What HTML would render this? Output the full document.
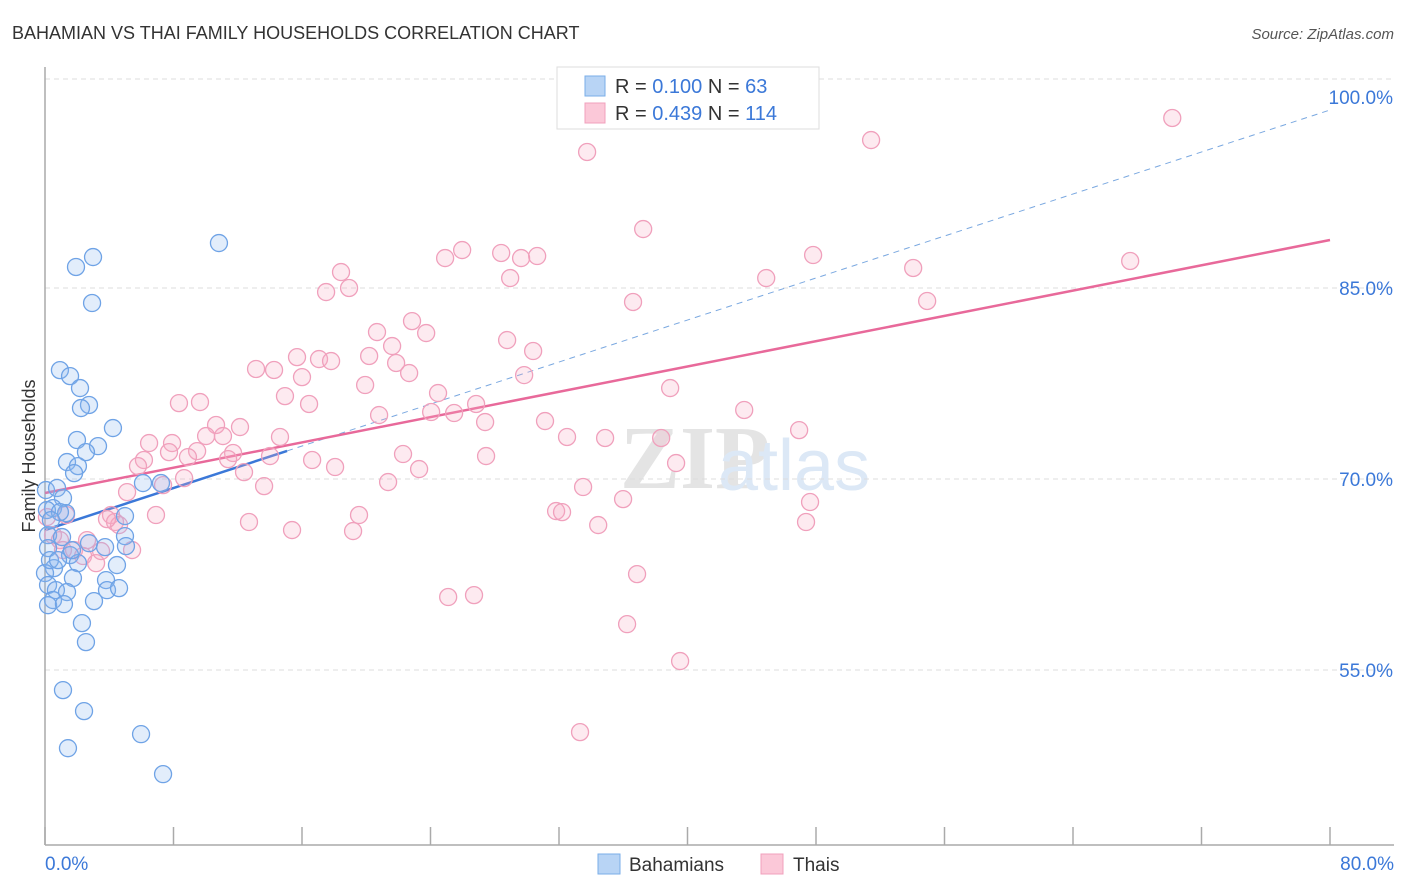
<!DOCTYPE html>
<html><head><meta charset="utf-8"><style>
body{margin:0;background:#fff;font-family:"Liberation Sans",sans-serif;}
svg{display:block}
</style></head><body>
<svg id="chart" width="1406" height="892" xmlns="http://www.w3.org/2000/svg">
<text x="12" y="39" font-size="18" fill="#333">BAHAMIAN VS THAI FAMILY HOUSEHOLDS CORRELATION CHART</text>
<text x="1394" y="39" font-size="15" fill="#555" font-style="italic" text-anchor="end">Source: ZipAtlas.com</text>
<text x="35" y="456" font-size="18" fill="#333" transform="rotate(-90 35 456)" text-anchor="middle">Family Households</text>
<text x="620" y="488" font-size="90" fill="#e4e4e4" font-family="Liberation Serif" font-weight="bold">ZIP</text>
<text x="718" y="490" font-size="72" fill="#dce8f6">atlas</text>
<g id="grid"></g><g id="axes"></g><g id="trend"></g><g id="pts"></g>
<g>
<rect x="557" y="67" width="262" height="62" fill="#fff" stroke="#ddd"/>
<rect x="585" y="76" width="20" height="20" fill="#b8d4f5" stroke="#7aaee8"/>
<rect x="585" y="103" width="20" height="20" fill="#fbc8d8" stroke="#f0a0bc"/>
<text x="615" y="93" font-size="20" fill="#333">R = <tspan fill="#3b78d8">0.100</tspan>   N = <tspan fill="#3b78d8"> 63</tspan></text>
<text x="615" y="120" font-size="20" fill="#333">R = <tspan fill="#3b78d8">0.439</tspan>   N = <tspan fill="#3b78d8">114</tspan></text>
</g>
<g>
<rect x="598" y="854" width="22" height="20" fill="#b8d4f5" stroke="#7aaee8"/>
<text x="629" y="871" font-size="19" fill="#333">Bahamians</text>
<rect x="761" y="854" width="22" height="20" fill="#fbc8d8" stroke="#f0a0bc"/>
<text x="793" y="871" font-size="19" fill="#333">Thais</text>
</g>
</svg>
<script>
const yTicks=[100,85,70,55];
const yTickLabels=["100.0%","85.0%","70.0%","55.0%"];
const xTickLabels=["0.0%","80.0%"];
const blueX=[10.83,2.99,1.93,2.93,0.93,1.56,2.18,2.74,2.24,4.23,1.99,3.30,2.55,1.37,2.05,1.81,0.06,0.75,1.12,0.50,0.12,1.31,0.93,4.98,0.19,1.06,2.74,3.74,4.98,5.04,0.19,1.56,2.05,4.48,0.56,0,1.74,3.80,0.19,3.86,4.61,0.68,1.37,3.05,0.50,0.19,1.18,2.30,2.55,1.12,2.43,1.43,5.98,7.35,6.10,7.22,0.37,0.31,0.81,1.68];
const blueY=[88.53,87.43,86.65,83.82,78.55,78.08,77.14,75.81,75.57,74.00,73.06,72.58,72.11,71.33,71.01,70.46,69.13,69.29,68.50,67.71,67.56,67.32,67.40,67.09,65.59,65.44,64.96,64.65,65.51,64.73,64.57,64.02,63.39,63.24,63.00,62.61,62.22,62.06,61.67,61.27,61.43,61.27,61.12,60.41,60.49,60.09,60.17,58.68,57.19,53.42,51.77,48.86,49.96,46.82,69.68,69.68,66.77,63.63,63.63,64.41];
const pinkX=[70.18,51.43,33.75,37.24,25.97,28.40,30.64,29.64,24.91,47.82,67.56,18.43,54.05,28.96,44.90,18.93,17.50,36.61,54.92,22.85,20.67,23.73,28.77,30.39,21.61,15.69,17.06,17.81,20.18,21.86,13.14,14.26,22.67,16.00,29.83,19.93,38.92,24.47,14.94,16.44,9.65,8.34,24.04,25.47,20.80,26.84,43.53,31.13,27.40,46.95,10.65,12.14,10.03,11.08,32.50,34.87,38.36,6.48,7.91,14.63,9.47,7.72,8.90,11.71,22.29,27.46,11.40,6.16,14.01,16.63,39.29,5.79,18.06,23.29,12.39,8.66,13.64,21.36,33.50,7.35,5.11,4.11,6.91,12.70,15.38,19.55,19.18,31.82,32.19,35.99,34.44,47.63,47.38,4.36,4.61,1.31,0.50,0.93,2.62,1.12,1.81,2.37,3.18,5.42,25.10,26.71,36.86,36.24,39.54,33.31,0.12,3.49,3.86];
const pinkY=[98.35,96.62,95.68,89.63,87.98,87.75,87.51,87.35,87.35,87.59,87.12,86.25,86.57,85.78,85.78,85.00,84.68,83.90,83.98,82.40,81.54,81.46,80.91,80.05,80.44,79.57,79.42,79.26,79.66,79.11,78.64,78.56,78.32,78.00,78.16,77.38,77.14,76.75,76.51,75.89,76.04,75.96,75.26,75.18,75.02,75.89,75.42,74.55,74.47,73.84,74.24,74.08,73.37,73.37,73.30,73.22,73.22,72.82,72.82,73.30,72.19,72.11,71.72,72.04,71.96,71.80,71.56,71.49,71.80,71.49,71.25,71.01,70.94,70.78,70.54,70.07,69.44,69.76,69.37,69.52,68.97,67.17,67.17,66.62,65.99,67.17,65.91,67.48,67.40,68.42,66.38,68.19,66.62,66.62,66.38,67.17,65.59,65.20,65.20,64.42,64.42,63.95,63.39,64.42,60.73,60.88,62.53,58.60,55.70,50.12,67.01,64.34,66.85];
const blueTrend=[65.99,98.98];
const blueSolidEnd=15.07;
const pinkTrend=[68.9,88.77];

const NS="http://www.w3.org/2000/svg";
const xs=v=>45+v*16.0625;
const ys=v=>97+(100-v)*12.733;
function mk(tag,attrs,parent){const e=document.createElementNS(NS,tag);for(const k in attrs)e.setAttribute(k,attrs[k]);document.getElementById(parent).appendChild(e);return e;}
// grid
let g=mk('line',{x1:45,x2:1394,y1:79,y2:79,stroke:'#ddd','stroke-dasharray':'5,4'},'grid');


yTicks.forEach((t,i)=>{
 if(i>0){const l=mk('line',{x1:45,x2:1394,y1:ys(t),y2:ys(t),stroke:'#ddd','stroke-dasharray':'5,4'},'grid');
 
 }
 const tx=mk('text',{x:1393,y:ys(t)+7,'font-size':19,fill:'#3b78d8','text-anchor':'end'},'grid');
 tx.textContent=yTickLabels[i];
 
 
});
let a=mk('line',{x1:45,x2:45,y1:67,y2:845,stroke:'#aaa','stroke-width':1.5},'axes');


a=mk('line',{x1:45,x2:1394,y1:845,y2:845,stroke:'#aaa','stroke-width':1.5},'axes');


for(let i=0;i<=10;i++){const tk=mk('line',{x1:xs(i*8),x2:xs(i*8),y1:827,y2:845,stroke:'#aaa','stroke-width':1.5},'axes');
 
 }
let t0=mk('text',{x:45,y:870,'font-size':19,fill:'#3b78d8'},'axes');t0.textContent=xTickLabels[0];


let t1=mk('text',{x:1394,y:870,'font-size':19,fill:'#3b78d8','text-anchor':'end'},'axes');t1.textContent=xTickLabels[1];


// points
function pts(X,Y,fill,stroke,name){X.forEach((x,i)=>{const c=mk('circle',{cx:xs(x),cy:ys(Y[i]),r:8.5,fill:fill,stroke:stroke,'stroke-width':1.3},'pts');
 
 });}
pts(pinkX,pinkY,'rgba(248,170,195,0.25)','#f0a0bc','thai-point');
pts(blueX,blueY,'rgba(140,185,240,0.25)','#6fa3e6','bahamian-point');
// trends
const bAt=x=>blueTrend[0]+(blueTrend[1]-blueTrend[0])*x/80;
let tl=mk('line',{x1:xs(blueSolidEnd),y1:ys(bAt(blueSolidEnd)),x2:xs(80),y2:ys(bAt(80)),stroke:'#7aa8e0','stroke-width':1,'stroke-dasharray':'6,5'},'trend');


tl=mk('line',{x1:xs(0),y1:ys(bAt(0)),x2:xs(blueSolidEnd),y2:ys(bAt(blueSolidEnd)),stroke:'#3b78d8','stroke-width':2.5},'trend');


tl=mk('line',{x1:xs(0),y1:ys(pinkTrend[0]),x2:xs(80),y2:ys(pinkTrend[1]),stroke:'#e8699a','stroke-width':2.5},'trend');


</script>
</body></html>
